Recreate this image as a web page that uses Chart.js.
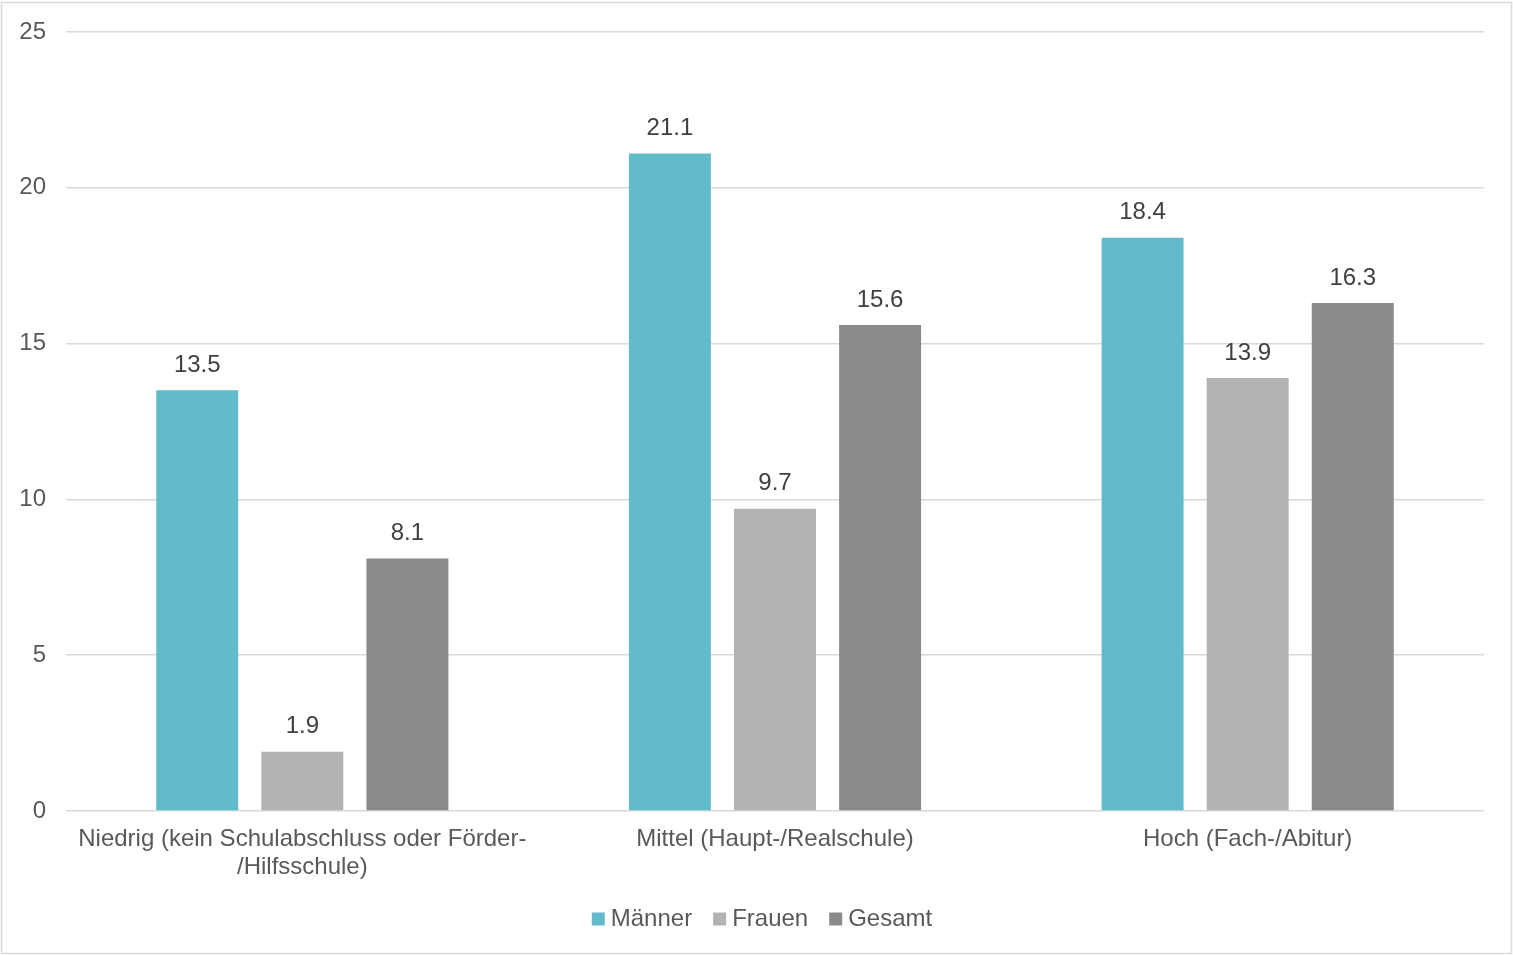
<!DOCTYPE html>
<html>
<head>
<meta charset="utf-8">
<script src="https://cdn.jsdelivr.net/npm/chart.js@4"></script>
<style>
html,body{margin:0;padding:0;background:#fff;}
#wrap{position:absolute;left:0;top:0;width:1513px;height:955px;}
</style>
</head>
<body>
<div id="wrap"><canvas id="c" width="1513" height="955"></canvas></div>
<script>
const categories = [["Niedrig (kein Schulabschluss oder Förder-", "/Hilfsschule)"], "Mittel (Haupt-/Realschule)", "Hoch (Fach-/Abitur)"];
const seriesNames = ["Männer", "Frauen", "Gesamt"];
const maenner = [13.5, 21.1, 18.4];
const frauen = [1.9, 9.7, 13.9];
const gesamt = [8.1, 15.6, 16.3];
const yTicks = [0, 5, 10, 15, 20, 25];
const colors = ["#61bbcb", "#b2b2b2", "#8a8a8a"];

const FONT = "'Liberation Sans', Arial, sans-serif";

const valueLabels = {
  id: 'valueLabels',
  afterDatasetsDraw(chart) {
    const ctx = chart.ctx;
    ctx.save();
    ctx.font = "24px " + FONT;
    ctx.fillStyle = "#404040";
    ctx.textAlign = "center";
    ctx.textBaseline = "middle";
    chart.data.datasets.forEach((ds, i) => {
      const meta = chart.getDatasetMeta(i);
      meta.data.forEach((bar, j) => {
        ctx.fillText(ds.data[j].toFixed(1), bar.x, bar.y - 25);
      });
    });
    ctx.restore();
  }
};

const border = {
  id: 'border',
  beforeDraw(chart) {
    const ctx = chart.ctx;
    ctx.save();
    ctx.fillStyle = "#fff";
    ctx.fillRect(0, 0, chart.width, chart.height);
    ctx.strokeStyle = "#d9d9d9";
    ctx.lineWidth = 1.5;
    ctx.strokeRect(1.5, 2.5, 1510, 951);
    ctx.restore();
    if (chart.legend && !chart.legend._shifted) {
      chart.legend.left += 23;
      chart.legend.right += 23;
      chart.legend._shifted = true;
    }
  }
};

new Chart(document.getElementById('c'), {
  type: 'bar',
  data: {
    labels: categories,
    datasets: [
      { label: seriesNames[0], data: maenner, backgroundColor: colors[0] },
      { label: seriesNames[1], data: frauen, backgroundColor: colors[1] },
      { label: seriesNames[2], data: gesamt, backgroundColor: colors[2] }
    ]
  },
  options: {
    responsive: false,
    animation: false,
    devicePixelRatio: 1,
    layout: { padding: { left: 0, right: 29, top: 29, bottom: 14 } },
    datasets: { bar: { categoryPercentage: 0.667, barPercentage: 0.78 } },
    plugins: {
      legend: {
        position: 'bottom',
        labels: {
          usePointStyle: true, pointStyle: 'rect',
          boxWidth: 1, boxHeight: 13, padding: 27,
          color: "#595959",
          font: { size: 24, family: FONT }
        }
      },
      tooltip: { enabled: false }
    },
    scales: {
      x: {
        grid: { display: false, drawTicks: false },
        border: { display: false },
        ticks: {
          color: "#595959",
          font: { size: 24, family: FONT, lineHeight: 1.17 },
          maxRotation: 0, autoSkip: false, padding: 14
        },
        afterFit(scale) { scale.height = 69; }
      },
      y: {
        min: 0, max: 25,
        afterBuildTicks(scale) { scale.ticks = yTicks.map(v => ({ value: v })); },
        grid: { color: "#d9d9d9", lineWidth: 1.5, drawTicks: false },
        border: { display: false },
        ticks: {
          color: "#595959",
          font: { size: 24, family: FONT, lineHeight: 1.0 },
          padding: 20
        },
        afterFit(scale) { scale.width = 66; }
      }
    }
  },
  plugins: [border, valueLabels]
});
</script>
</body>
</html>
